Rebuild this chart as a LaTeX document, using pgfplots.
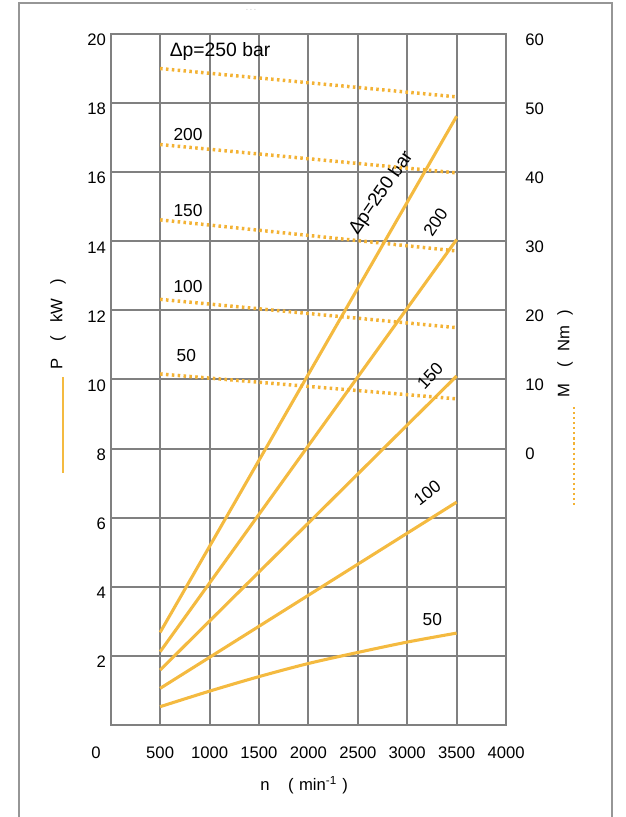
\documentclass[border=0pt]{standalone}
\usepackage{fontspec}
\setmainfont{Liberation Sans}
\usepackage{pgfplots}
\pgfplotsset{compat=1.18}

\definecolor{pcurve}{RGB}{244,186,64}
\definecolor{mcurve}{RGB}{243,178,52}
\definecolor{gridgray}{RGB}{128,128,128}
\definecolor{framegray}{RGB}{150,150,150}

% power curves P(n) in kW, one per pressure drop
\pgfplotstableread{
n     p250   p200   p150   p100
500   2.68   2.12   1.59   1.06
3500  17.62  14.05  10.10  6.45
}\powerlin
\pgfplotstableread{
n     p50
500   0.53
1000  0.98
1500  1.40
2000  1.78
2500  2.10
3000  2.40
3500  2.66
}\powerfifty
% torque curves M(n) in Nm
\pgfplotstableread{
n     m250   m200   m150   m100   m50
500   55.0   44.0   33.1   21.6   10.8
3500  50.9   39.9   28.6   17.5   7.2
}\torque

\tikzset{mdots/.style={mcurve, line width=2.6pt, dash pattern=on 1.9pt off 2.5pt}}

\begin{document}
\begin{tikzpicture}[x=0.75pt,y=0.75pt]
\useasboundingbox (0,0) rectangle (625,817);
% page frame
\draw[framegray, line width=1.5pt] (18.7,-10) -- (18.7,813.5) -- (612,813.5) -- (612,-10);
\node[gray!45, font=\fontsize{5}{5}\selectfont] at (251,807) {- - -};

% power axis (left)
\begin{axis}[
  at={(83.03pt,69pt)}, anchor=south west,
  width=296.5pt, height=518.25pt, scale only axis,
  xmin=0, xmax=4000, ymin=0, ymax=20,
  xtick={500,1000,...,4000}, ytick={2,4,...,20},
  extra x ticks={0}, extra x tick style={xticklabel style={xshift=-11pt}},
  scaled x ticks=false,
  grid=major, major grid style={gridgray, line width=1.5pt},
  axis line style={gridgray, line width=1.7pt},
  tick style={draw=none},
  ticklabel style={font=\fontsize{12.5}{14}\selectfont},
  xticklabel style={yshift=-13pt},
  yticklabel style={yshift=-4.5pt},
  /pgf/number format/assume math mode=true,
  /pgf/number format/1000 sep={},
  clip=false,
]
\addplot[pcurve, line width=2.3pt] table[x=n, y=p250] {\powerlin};
\addplot[pcurve, line width=2.3pt] table[x=n, y=p200] {\powerlin};
\addplot[pcurve, line width=2.3pt] table[x=n, y=p150] {\powerlin};
\addplot[pcurve, line width=2.3pt] table[x=n, y=p100] {\powerlin};
\addplot[pcurve, line width=2.3pt, smooth] table[x=n, y=p50] {\powerfifty};

\begin{scope}[font=\fontsize{13}{15}\selectfont]
\node[anchor=west, font=\fontsize{14.5}{16}\selectfont] at (axis cs:550,19.48) {Δp=250 bar};
\node at (axis cs:782,17.1) {200};
\node at (axis cs:782,14.9) {150};
\node at (axis cs:782,12.68) {100};
\node at (axis cs:765,10.7) {50};
\node[rotate=55, font=\fontsize{14}{16}\selectfont] at (axis cs:2740,15.4) {Δp=250 bar};
\node[rotate=56] at (axis cs:3286,14.56) {200};
\node[rotate=47] at (axis cs:3231,10.1) {150};
\node[rotate=38] at (axis cs:3203,6.71) {100};
\node at (axis cs:3254,3.04) {50};
\end{scope}
\end{axis}

% torque axis (right)
\begin{axis}[
  at={(83.03pt,69pt)}, anchor=south west,
  width=296.5pt, height=518.25pt, scale only axis,
  xmin=0, xmax=4000, ymin=-40, ymax=60,
  axis x line=none, axis y line*=right,
  y axis line style={draw=none},
  ytick={0,10,...,60},
  tick style={draw=none},
  yticklabel style={font=\fontsize{12.5}{14}\selectfont, xshift=11pt, yshift=-4pt},
  /pgf/number format/assume math mode=true,
  clip=false,
]
\addplot[mdots] table[x=n, y=m250] {\torque};
\addplot[mdots] table[x=n, y=m200] {\torque};
\addplot[mdots] table[x=n, y=m150] {\torque};
\addplot[mdots] table[x=n, y=m100] {\torque};
\addplot[mdots] table[x=n, y=m50] {\torque};
\end{axis}

% axis titles with their line keys
\begin{scope}[font=\fontsize{12.5}{14}\selectfont]
\node[rotate=90, anchor=west, inner sep=0] at (58,447) {P\hspace{13pt}(\hspace{10pt}kW\hspace{10pt})};
\draw[pcurve, line width=1.3pt] (62.7,440) -- (62.7,344);
\node[rotate=90, anchor=west, inner sep=0] at (565,419) {M\hspace{12pt}(\hspace{8pt}Nm\hspace{8pt})};
\draw[mcurve, line width=2pt, dash pattern=on 1.6pt off 2.2pt] (574,410) -- (574,310);
\node[anchor=west, inner sep=0] at (260,32) {n\hspace{14pt}(\hspace{4pt}min\textsuperscript{-1}\hspace{4pt})};
\end{scope}
\end{tikzpicture}
\end{document}
